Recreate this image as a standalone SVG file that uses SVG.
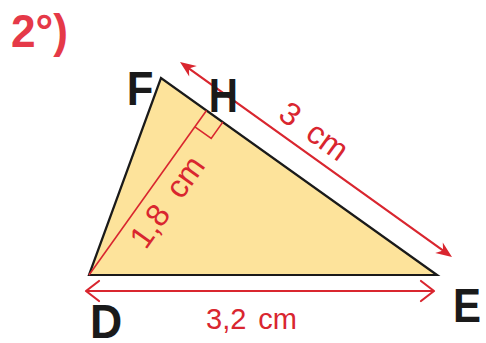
<svg xmlns="http://www.w3.org/2000/svg" xmlns:xlink="http://www.w3.org/1999/xlink" width="486" height="343" viewBox="0 0 486 343">
<style>
.tri{fill:#fde39b;stroke:#1a1a1a;stroke-width:2.2;stroke-linejoin:miter}
.dim{fill:none;stroke:#d9262f;stroke-width:2.2;stroke-linecap:round;stroke-linejoin:round}
.thin{fill:none;stroke:#d9262f;stroke-width:1.6}
.ah{fill:#d9262f}
.lbl{font-family:"Liberation Sans",Arial,sans-serif;font-size:29px;fill:#d9262f}
.rl{font-family:"Liberation Sans",Arial,sans-serif;font-size:32px;fill:#d9262f}
.pt{font-family:"Liberation Sans",Arial,sans-serif;font-weight:bold;font-size:49px;fill:#1a1a1a}
.num{font-family:"Liberation Sans",Arial,sans-serif;font-weight:bold;font-size:46px;fill:#e53948}
</style>
<defs>
<path id="ahead" d="M0,0 L-16,-6.5 L-11,0 L-16,6.5 Z"/>
</defs>
<text class="num" x="11" y="47" textLength="57" lengthAdjust="spacingAndGlyphs">2°)</text>
<g id="triangle">
<polygon class="tri" points="161,78 89,275 437,275"/>
</g>
<g id="altitude">
<line class="thin" x1="89" y1="275" x2="206.5" y2="110.5"/>
<polyline class="thin" points="222.8,122.1 211.2,138.4 194.9,126.8"/>
</g>
<g id="connectors">
<line class="dim" x1="188.1" y1="67.8" x2="443.9" y2="251.2"/>
<use href="#ahead" class="ah" transform="translate(452,257) rotate(35.63)"/>
<use href="#ahead" class="ah" transform="translate(180,62) rotate(215.63)"/>
<line class="dim" x1="87" y1="291" x2="433" y2="291"/>
<polyline class="dim" points="99,281 86,291 99,301"/>
<polyline class="dim" points="421,281 434,291 421,301"/>
</g>
<g id="labels">
<text class="lbl" x="206" y="329" style="word-spacing:4px">3,2 cm</text>
<g transform="translate(180,62) rotate(35.63)">
<text class="rl" x="111" y="-11" style="word-spacing:7px">3 cm</text>
</g>
<g transform="translate(89,275) rotate(-54.5)">
<text class="rl" x="53" y="32" style="word-spacing:8px">1,8 cm</text>
</g>
</g>
<g id="point-F"><text class="pt" x="126.8" y="105" textLength="26.7" lengthAdjust="spacingAndGlyphs">F</text></g>
<g id="point-H"><text class="pt" x="208.7" y="111.5" textLength="29.2" lengthAdjust="spacingAndGlyphs">H</text></g>
<g id="point-D"><text class="pt" x="90.1" y="338" textLength="32.2" lengthAdjust="spacingAndGlyphs">D</text></g>
<g id="point-E"><text class="pt" x="453" y="321.7" textLength="28" lengthAdjust="spacingAndGlyphs">E</text></g>
</svg>
